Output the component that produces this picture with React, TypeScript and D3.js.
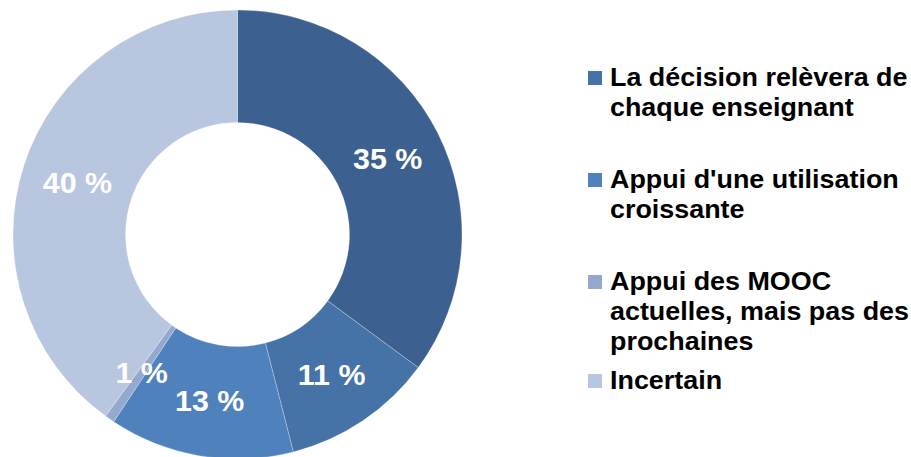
import React from "react";
import * as d3 from "d3";

const categories = [
  "(hors légende)",
  "La décision relèvera de chaque enseignant",
  "Appui d'une utilisation croissante",
  "Appui des MOOC actuelles, mais pas des prochaines",
  "Incertain",
];
const values = [35.1, 10.9, 13.3, 0.7, 40.0];
const labels = ["35 %", "11 %", "13 %", "1 %", "40 %"];
const colors = ["#3c6190", "#4572a7", "#4f81bd", "#94a9cf", "#b9c6df"];

const legendIdx = [1, 2, 3, 4];
const legendLines = [
  ["La décision relèvera de", "chaque enseignant"],
  ["Appui d'une utilisation", "croissante"],
  ["Appui des MOOC", "actuelles, mais pas des", "prochaines"],
  ["Incertain"],
];
const legendBaselines = [86, 188, 290, 389];

export default function App() {
  const W = 911;
  const H = 457;
  const cx = 237.5;
  const cy = 234.5;
  const R = 224.5;
  const r = 112;

  const pie = d3
    .pie<number>()
    .sort(null)
    .value((d) => d);
  const arcs = pie(values);
  const arcGen = d3.arc<d3.PieArcDatum<number>>().innerRadius(r).outerRadius(R);

  return (
    <svg
      width={W}
      height={H}
      style={{ position: "absolute", left: 0, top: 0, background: "#fff" }}
      fontFamily="'Liberation Sans', Arial, sans-serif"
    >
      <g transform={`translate(${cx},${cy})`}>
        {arcs.map((a, i) => (
          <path
            key={i}
            d={arcGen(a) || ""}
            fill={colors[i]}
            stroke="#ffffff"
            strokeOpacity={0.35}
            strokeWidth={0.75}
          />
        ))}
        {arcs.map((a, i) => {
          const [x, y] = arcGen.centroid(a);
          return (
            <text
              key={"l" + i}
              x={x}
              y={y}
              dy="0.36em"
              textAnchor="middle"
              fill="#ffffff"
              fontWeight="bold"
              fontSize={29.5}
              transform={`translate(${x},0) scale(1.03,1) translate(${-x},0)`}
            >
              {labels[i]}
            </text>
          );
        })}
      </g>
      <g>
        {legendIdx.map((ci, k) => (
          <g key={k}>
            <rect
              x={588}
              y={legendBaselines[k] - 15}
              width={14}
              height={14}
              fill={colors[ci]}
            />
            <g transform="translate(610,0) scale(1.055,1) translate(-610,0)">
              <text
                x={610}
                y={legendBaselines[k]}
                fontWeight="bold"
                fontSize={25.5}
                fill="#000"
              >
                {legendLines[k].map((ln, j) => (
                  <tspan key={j} x={610} dy={j === 0 ? 0 : 30}>
                    {ln}
                  </tspan>
                ))}
              </text>
            </g>
          </g>
        ))}
      </g>
    </svg>
  );
}
